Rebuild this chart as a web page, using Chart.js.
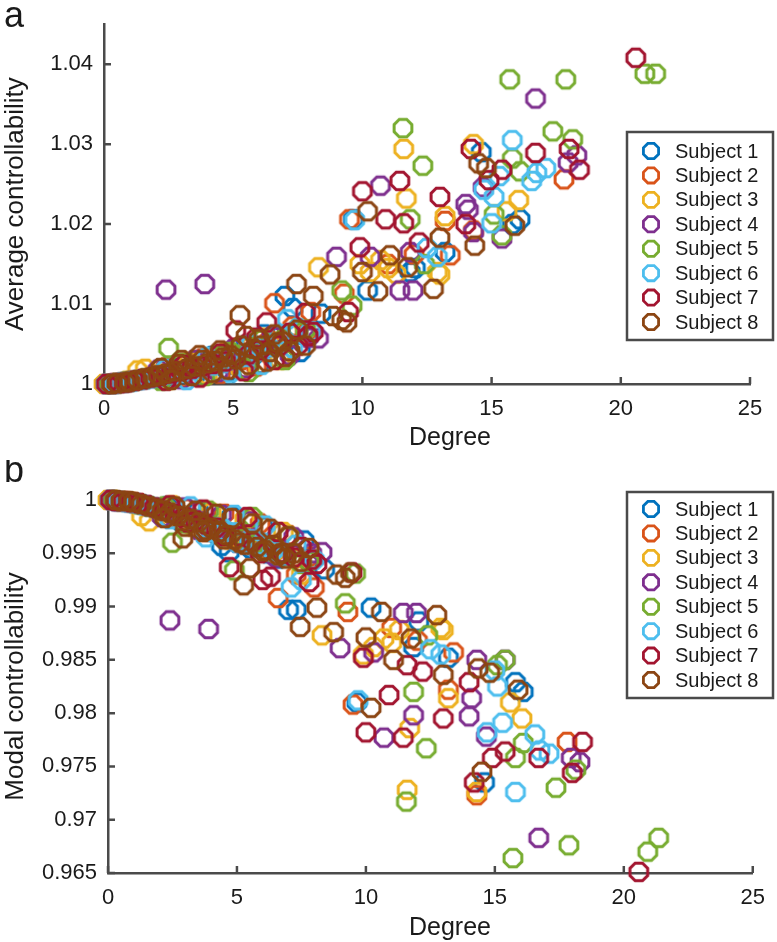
<!DOCTYPE html>
<html>
<head>
<meta charset="utf-8">
<title>Controllability vs degree</title>
<script src="https://cdn.jsdelivr.net/npm/chart.js@4.4.1/dist/chart.umd.min.js"></script>
<style>
  body { margin: 0; background: #fff; }
  canvas { display: block; }
</style>
</head>
<body>
<canvas id="chart-a" width="777" height="460"></canvas>
<canvas id="chart-b" width="777" height="482"></canvas>
<script>
'use strict';

// ** DATA **

let subjectNames = ['Subject 1', 'Subject 2', 'Subject 3', 'Subject 4', 'Subject 5', 'Subject 6', 'Subject 7', 'Subject 8'];
let subjectColors = ['#0072bd', '#d95319', '#edb120', '#7e2f8e', '#77ac30', '#4dbeee', '#a2142f', '#8b4513'];

let degreeTicks = [0, 5, 10, 15, 20, 25];
let averageTicks = [1, 1.01, 1.02, 1.03, 1.04];
let modalTicks = [0.965, 0.97, 0.975, 0.98, 0.985, 0.99, 0.995, 1];

// each node: degree, average controllability, modal controllability
let s1Degree = [0.1, 0.3, 0.5, 0.8, 1.0, 1.3, 1.6, 1.9, 2.2, 2.6, 3.0, 3.3, 3.7, 4.0, 4.4, 4.7, 5.0, 5.4, 5.8, 6.2, 6.6, 7.0, 7.3, 8.4, 9.65, 10.2, 11.85, 12.05, 13.2, 14.6, 15.8, 16.1,
  2.3, 2.8, 3.5, 4.2, 4.8, 5.5, 6.0, 6.8, 7.6];
let s1Average = [1.0000, 1.0000, 1.0001, 1.0002, 1.0003, 1.0005, 1.0006, 1.0008, 1.0010, 1.0013, 1.0016, 1.0018, 1.0022, 1.0025, 1.0027, 1.0031, 1.0024, 1.0038, 1.0036, 1.0062, 1.0050, 1.0110, 1.0095, 1.0088, 1.0206, 1.0117, 1.0140, 1.0145, 1.0165, 1.0290, 1.0200, 1.0206,
  1.0006, 1.0020, 1.0010, 1.0035, 1.0016, 1.0048, 1.0025, 1.0060, 1.0040];
let s1Modal = [1.0000, 0.9999, 0.9999, 0.9998, 0.9997, 0.9996, 0.9994, 0.9992, 0.9990, 0.9987, 0.9984, 0.9982, 0.9978, 0.9975, 0.9957, 0.9951, 0.9968, 0.9963, 0.9958, 0.9950, 0.9945, 0.9897, 0.9897, 0.9935, 0.9810, 0.9899, 0.9862, 0.9886, 0.9852, 0.9735, 0.9829, 0.9820,
  0.9994, 0.9980, 0.9990, 0.9968, 0.9985, 0.9955, 0.9975, 0.9948, 0.9962];

let s2Degree = [0.2, 0.4, 0.7, 1.0, 1.2, 1.5, 1.8, 2.1, 2.5, 2.8, 3.2, 3.6, 3.9, 4.3, 4.6, 5.0, 5.3, 5.7, 6.1, 6.6, 7.3, 8.0, 9.3, 9.5, 11.0, 12.0, 13.2, 13.4, 14.3, 17.8,
  2.4, 3.0, 3.8, 4.5, 5.1, 5.9, 6.4, 7.0, 7.8];
let s2Average = [1.0000, 1.0001, 1.0002, 1.0003, 1.0004, 1.0006, 1.0008, 1.0009, 1.0012, 1.0014, 1.0017, 1.0020, 1.0023, 1.0026, 1.0029, 1.0033, 1.0030, 1.0041, 1.0045, 1.0101, 1.0072, 1.0090, 1.0113, 1.0206, 1.0150, 1.0162, 1.0204, 1.0161, 1.0192, 1.0256,
  1.0021, 1.0008, 1.0032, 1.0013, 1.0045, 1.0022, 1.0055, 1.0033, 1.0063];
let s2Modal = [1.0000, 0.9999, 0.9999, 0.9998, 0.9997, 0.9995, 0.9993, 0.9991, 0.9988, 0.9986, 0.9983, 0.9979, 0.9977, 0.9973, 0.9970, 0.9966, 0.9962, 0.9959, 0.9955, 0.9908, 0.9930, 0.9918, 0.9895, 0.9808, 0.9880, 0.9868, 0.9822, 0.9857, 0.9723, 0.9773,
  0.9983, 0.9992, 0.9970, 0.9987, 0.9962, 0.9978, 0.9950, 0.9967, 0.9947];

let s3Degree = [0.0, 0.2, 0.5, 0.9, 1.3, 1.6, 2.0, 2.3, 2.7, 3.1, 3.5, 3.9, 4.2, 4.6, 5.1, 5.6, 6.0, 6.5, 7.5, 8.3, 9.9, 10.3, 10.7, 11.0, 11.3, 11.6, 11.7, 12.9, 13.0, 13.2, 14.3, 15.6, 16.05,
  2.5, 3.3, 4.0, 4.7, 5.3, 6.2, 6.8, 7.2];
let s3Average = [1.0000, 1.0000, 1.0001, 1.0004, 1.0017, 1.0019, 1.0010, 1.0012, 1.0015, 1.0018, 1.0021, 1.0024, 1.0027, 1.0031, 1.0035, 1.0045, 1.0044, 1.0049, 1.0070, 1.0146, 1.0150, 1.0140, 1.0155, 1.0145, 1.0138, 1.0294, 1.0232, 1.0140, 1.0137, 1.0210, 1.0300, 1.0216, 1.0230,
  1.0005, 1.0028, 1.0012, 1.0040, 1.0018, 1.0058, 1.0030, 1.0062];
let s3Modal = [1.0000, 1.0000, 0.9999, 0.9998, 0.9985, 0.9980, 0.9990, 0.9988, 0.9985, 0.9982, 0.9979, 0.9976, 0.9972, 0.9969, 0.9965, 0.9960, 0.9957, 0.9953, 0.9930, 0.9873, 0.9855, 0.9862, 0.9870, 0.9866, 0.9878, 0.9728, 0.9786, 0.9880, 0.9878, 0.9814, 0.9726, 0.9810, 0.9795,
  0.9995, 0.9975, 0.9988, 0.9963, 0.9982, 0.9952, 0.9970, 0.9945];

let s4Degree = [0.1, 0.4, 0.8, 1.1, 1.5, 1.9, 2.4, 2.8, 3.2, 3.6, 3.9, 4.3, 4.8, 5.2, 5.7, 6.2, 6.8, 8.3, 9.0, 10.3, 10.7, 11.45, 11.85, 11.96, 14.0, 14.1, 14.3, 14.67, 15.4, 16.7, 17.96, 18.3,
  2.1, 3.0, 3.5, 4.4, 5.0, 5.5, 6.5, 7.2, 7.9];
let s4Average = [1.0000, 1.0001, 1.0002, 1.0004, 1.0006, 1.0009, 1.0118, 1.0014, 1.0017, 1.0020, 1.0125, 1.0026, 1.0030, 1.0034, 1.0039, 1.0044, 1.0050, 1.0057, 1.0159, 1.0159, 1.0248, 1.0117, 1.0165, 1.0117, 1.0225, 1.0218, 1.0190, 1.0246, 1.0182, 1.0357, 1.0277, 1.0286,
  1.0018, 1.0006, 1.0030, 1.0015, 1.0044, 1.0020, 1.0060, 1.0036, 1.0058];
let s4Modal = [1.0000, 0.9999, 0.9998, 0.9997, 0.9995, 0.9992, 0.9887, 0.9986, 0.9983, 0.9980, 0.9879, 0.9973, 0.9969, 0.9965, 0.9961, 0.9956, 0.9950, 0.9951, 0.9861, 0.9857, 0.9777, 0.9894, 0.9798, 0.9894, 0.9797, 0.9814, 0.9850, 0.9778, 0.9850, 0.9683, 0.9758, 0.9754,
  0.9984, 0.9993, 0.9972, 0.9986, 0.9960, 0.9980, 0.9946, 0.9965, 0.9950];

let s5Degree = [0.2, 0.5, 0.9, 1.2, 1.6, 2.0, 2.5, 2.9, 3.3, 3.7, 4.1, 4.5, 4.9, 5.3, 5.8, 6.3, 6.9, 7.5, 9.2, 9.6, 11.57, 11.85, 12.34, 12.4, 15.1, 15.4, 15.7, 15.8, 16.1, 17.37, 17.87, 18.14, 20.93, 21.35,
  2.2, 3.0, 3.9, 4.6, 5.6, 6.1, 7.0, 7.8];
let s5Average = [1.0000, 1.0001, 1.0003, 1.0004, 1.0007, 1.0009, 1.0045, 1.0016, 1.0019, 1.0022, 1.0025, 1.0028, 1.0040, 1.0036, 1.0038, 1.0047, 1.0055, 1.0065, 1.0117, 1.0098, 1.0320, 1.0206, 1.0273, 1.0150, 1.0212, 1.0186, 1.0381, 1.0282, 1.0266, 1.0316, 1.0381, 1.0306, 1.0388, 1.0388,
  1.0004, 1.0026, 1.0010, 1.0036, 1.0015, 1.0055, 1.0030, 1.0068];
let s5Modal = [1.0000, 0.9999, 0.9998, 0.9996, 0.9994, 0.9991, 0.9960, 0.9985, 0.9982, 0.9978, 0.9975, 0.9971, 0.9934, 0.9964, 0.9960, 0.9955, 0.9948, 0.9940, 0.9903, 0.9931, 0.9717, 0.9820, 0.9767, 0.9873, 0.9845, 0.9850, 0.9664, 0.9758, 0.9772, 0.9730, 0.9676, 0.9747, 0.9670, 0.9683,
  0.9994, 0.9978, 0.9990, 0.9966, 0.9984, 0.9952, 0.9966, 0.9942];

let s6Degree = [0.1, 0.4, 0.7, 1.1, 1.4, 1.8, 2.2, 2.6, 3.0, 3.4, 3.8, 4.2, 4.6, 5.0, 5.5, 5.9, 6.4, 7.1, 7.5, 9.7, 12.5, 12.9, 14.7, 15.0, 15.1, 15.3, 15.8, 16.55, 16.75, 17.1,
  2.4, 3.2, 4.0, 4.9, 5.7, 6.1, 6.8, 7.3, 8.0];
let s6Average = [1.0000, 1.0000, 1.0002, 1.0003, 1.0005, 1.0007, 1.0009, 1.0012, 1.0014, 1.0017, 1.0020, 1.0023, 1.0026, 1.0030, 1.0034, 1.0041, 1.0046, 1.0081, 1.0070, 1.0205, 1.0170, 1.0159, 1.0243, 1.0201, 1.0234, 1.0260, 1.0305, 1.0254, 1.0264, 1.0270,
  1.0019, 1.0005, 1.0034, 1.0014, 1.0050, 1.0024, 1.0062, 1.0045, 1.0066];
let s6Modal = [1.0000, 0.9999, 0.9998, 0.9997, 0.9995, 0.9993, 0.9990, 0.9987, 0.9984, 0.9981, 0.9965, 0.9974, 0.9970, 0.9960, 0.9963, 0.9958, 0.9952, 0.9918, 0.9925, 0.9812, 0.9860, 0.9855, 0.9782, 0.9840, 0.9825, 0.9791, 0.9726, 0.9780, 0.9765, 0.9762,
  0.9982, 0.9994, 0.9970, 0.9986, 0.9955, 0.9976, 0.9948, 0.9958, 0.9944];

let s7Degree = [0.1, 0.3, 0.6, 0.9, 1.2, 1.5, 1.8, 2.2, 2.6, 3.0, 3.4, 3.8, 4.2, 4.7, 5.1, 5.6, 6.0, 6.3, 6.8, 7.8, 7.9, 8.1, 9.46, 9.9, 10.0, 10.9, 11.45, 11.6, 12.2, 13.0, 14.0, 14.2, 14.9, 15.4, 16.7, 18.0, 18.4, 20.58,
  2.4, 3.1, 3.7, 4.5, 5.4, 5.9, 6.6, 7.2, 7.5];
let s7Average = [1.0000, 1.0000, 1.0001, 1.0002, 1.0004, 1.0006, 1.0008, 1.0010, 1.0013, 1.0016, 1.0019, 1.0022, 1.0025, 1.0028, 1.0067, 1.0037, 1.0042, 1.0077, 1.0048, 1.0089, 1.0060, 1.0065, 1.0090, 1.0171, 1.0241, 1.0206, 1.0254, 1.0201, 1.0177, 1.0234, 1.0200, 1.0294, 1.0255, 1.0268, 1.0289, 1.0294, 1.0268, 1.0408,
  1.0004, 1.0024, 1.0008, 1.0038, 1.0016, 1.0058, 1.0030, 1.0064, 1.0048];
let s7Modal = [1.0000, 0.9999, 0.9999, 0.9998, 0.9997, 0.9995, 0.9993, 0.9990, 0.9987, 0.9984, 0.9981, 0.9977, 0.9974, 0.9937, 0.9966, 0.9961, 0.9925, 0.9928, 0.9950, 0.9923, 0.9944, 0.9940, 0.9932, 0.9852, 0.9782, 0.9817, 0.9777, 0.9845, 0.9839, 0.9795, 0.9829, 0.9735, 0.9758, 0.9764, 0.9758, 0.9744, 0.9773, 0.9651,
  0.9995, 0.9979, 0.9991, 0.9966, 0.9984, 0.9950, 0.9970, 0.9946, 0.9956];

let s8Degree = [0.3, 0.5, 0.8, 1.0, 1.3, 1.6, 1.9, 2.1, 2.4, 2.7, 2.9, 3.2, 3.5, 3.8, 4.0, 4.3, 4.6, 4.9, 5.1, 5.26, 5.5, 5.8, 6.1, 6.4, 6.7, 6.9, 7.2, 7.45, 8.1, 8.75, 8.86, 9.2, 9.4, 10.0, 10.2, 10.6, 11.07, 11.75, 12.75, 13.0, 14.35, 14.5, 14.8, 15.9,
  2.2, 2.6, 3.0, 3.4, 3.7, 4.2, 4.5, 4.8, 5.3, 5.6, 6.0, 6.3, 6.6, 7.0, 7.5, 7.8];
let s8Average = [1.0000, 1.0001, 1.0002, 1.0003, 1.0005, 1.0007, 1.0009, 1.0011, 1.0013, 1.0016, 1.0025, 1.0019, 1.0022, 1.0030, 1.0026, 1.0029, 1.0033, 1.0036, 1.0031, 1.0086, 1.0060, 1.0044, 1.0048, 1.0040, 1.0052, 1.0053, 1.0041, 1.0125, 1.0110, 1.0137, 1.0085, 1.0080, 1.0077, 1.0140, 1.0216, 1.0116, 1.0161, 1.0146, 1.0119, 1.0183, 1.0173, 1.0276, 1.0270, 1.0198,
  1.0020, 1.0005, 1.0030, 1.0010, 1.0036, 1.0014, 1.0042, 1.0018, 1.0048, 1.0024, 1.0056, 1.0028, 1.0062, 1.0034, 1.0068, 1.0048];
let s8Modal = [1.0000, 0.9999, 0.9999, 0.9998, 0.9996, 0.9994, 0.9992, 0.9990, 0.9988, 0.9985, 0.9964, 0.9982, 0.9979, 0.9972, 0.9974, 0.9970, 0.9967, 0.9963, 0.9960, 0.9920, 0.9936, 0.9956, 0.9953, 0.9958, 0.9950, 0.9945, 0.9950, 0.9881, 0.9899, 0.9876, 0.9930, 0.9927, 0.9932, 0.9871, 0.9805, 0.9895, 0.9850, 0.9870, 0.9892, 0.9836, 0.9842, 0.9745, 0.9838, 0.9822,
  0.9983, 0.9994, 0.9975, 0.9990, 0.9970, 0.9987, 0.9963, 0.9983, 0.9958, 0.9978, 0.9952, 0.9973, 0.9948, 0.9966, 0.9942, 0.9955];

let subjectDegrees = [s1Degree, s2Degree, s3Degree, s4Degree, s5Degree, s6Degree, s7Degree, s8Degree];
let subjectAverage = [s1Average, s2Average, s3Average, s4Average, s5Average, s6Average, s7Average, s8Average];
let subjectModal = [s1Modal, s2Modal, s3Modal, s4Modal, s5Modal, s6Modal, s7Modal, s8Modal];

// ** STYLE **

const fontFamily = '"Liberation Sans", Arial, Helvetica, sans-serif';
const textColor = '#1a1a1a';
const axisColor = '#4a4a4a';

// ** FUNCTIONS **

// matlab draws its 'o' markers as octagons
function drawOctagon(ctx, cx, cy, r, color, lw) {
  ctx.beginPath();
  for (let k = 0; k < 8; k++) {
    let ang = Math.PI / 8 + k * Math.PI / 4;
    let px = cx + r * Math.cos(ang);
    let py = cy + r * Math.sin(ang);
    if (k === 0) {
      ctx.moveTo(px, py);
    } else {
      ctx.lineTo(px, py);
    }
  }
  ctx.closePath();
  ctx.strokeStyle = color;
  ctx.lineWidth = lw;
  ctx.stroke();
}

function makeMarker(color) {
  let c = document.createElement('canvas');
  c.width = 26;
  c.height = 26;
  drawOctagon(c.getContext('2d'), 13, 13, 9.6, color, 3);
  return c;
}

let markers = subjectColors.map(makeMarker);

function buildDatasets(valueLists) {
  let sets = [];
  for (let i = 0; i < subjectNames.length; i++) {
    let points = subjectDegrees[i].map((d, j) => ({ x: d, y: valueLists[i][j] }));
    sets.push({
      label: subjectNames[i],
      data: points,
      borderColor: subjectColors[i],
      backgroundColor: subjectColors[i],
      pointStyle: markers[i],
      pointRadius: 10,
      showLine: false,
      clip: false,
      order: subjectNames.length - 1 - i // later subjects drawn on top
    });
  }
  return sets;
}

function tickFormat(v) {
  return String(Number(v.toFixed(3)));
}

// inward tick marks like matlab
const innerTicks = {
  id: 'innerTicks',
  beforeDatasetsDraw(chart) {
    let ctx = chart.ctx;
    let area = chart.chartArea;
    ctx.save();
    ctx.strokeStyle = axisColor;
    ctx.lineWidth = 2.5;
    ctx.beginPath();
    chart.scales.x.ticks.forEach(t => {
      let px = chart.scales.x.getPixelForValue(t.value);
      ctx.moveTo(px, area.bottom);
      ctx.lineTo(px, area.bottom - 7);
    });
    chart.scales.y.ticks.forEach(t => {
      let py = chart.scales.y.getPixelForValue(t.value);
      ctx.moveTo(area.left, py);
      ctx.lineTo(area.left + 7, py);
    });
    ctx.stroke();
    ctx.restore();
  }
};

// panel letter, x title and boxed legend
const panelDecor = {
  id: 'panelDecor',
  afterDatasetsDraw(chart, args, opts) {
    let ctx = chart.ctx;
    ctx.save();
    ctx.fillStyle = textColor;
    ctx.textBaseline = 'alphabetic';
    ctx.textAlign = 'left';
    ctx.font = '36px ' + fontFamily;
    ctx.fillText(opts.letter, 4, opts.letterY);

    ctx.textAlign = 'center';
    ctx.font = '25px ' + fontFamily;
    ctx.fillText('Degree', opts.titleX, opts.titleY);

    // legend box
    ctx.fillStyle = '#ffffff';
    ctx.fillRect(opts.legendX, opts.legendY, 146, opts.legendH);
    ctx.strokeStyle = axisColor;
    ctx.lineWidth = 2.5;
    ctx.strokeRect(opts.legendX, opts.legendY, 146, opts.legendH);
    ctx.font = '20px ' + fontFamily;
    ctx.textAlign = 'left';
    ctx.textBaseline = 'middle';
    chart.data.datasets.forEach((ds, i) => {
      let rowY = opts.legendY + opts.firstRow + i * 24.43;
      drawOctagon(ctx, opts.legendX + 24, rowY, 8.2, ds.borderColor, 2.8);
      ctx.fillStyle = textColor;
      ctx.fillText(ds.label, opts.legendX + 48, rowY + 1);
    });
    ctx.restore();
  }
};

function makeChart(canvasId, valueLists, cfg) {
  return new Chart(document.getElementById(canvasId), {
    type: 'scatter',
    data: { datasets: buildDatasets(valueLists) },
    options: {
      responsive: false,
      animation: false,
      events: [],
      layout: { padding: { left: 0, right: cfg.padRight, top: cfg.padTop, bottom: 0 } },
      scales: {
        x: {
          type: 'linear',
          min: 0,
          max: 25,
          afterBuildTicks: s => { s.ticks = degreeTicks.map(v => ({ value: v })); },
          afterFit: s => { s.height = cfg.xHeight; },
          grid: { display: false, drawTicks: false },
          border: { display: true, color: axisColor, width: 2.5 },
          ticks: { autoSkip: false, maxRotation: 0, padding: 12, color: textColor, font: { family: fontFamily, size: 22 } }
        },
        y: {
          type: 'linear',
          min: cfg.yMin,
          max: cfg.yMax,
          afterBuildTicks: s => { s.ticks = cfg.yTicks.map(v => ({ value: v })); },
          afterFit: s => { s.width = cfg.yWidth; },
          grid: { display: false, drawTicks: false },
          border: { display: true, color: axisColor, width: 2.5 },
          ticks: { autoSkip: false, padding: 11, color: textColor, font: { family: fontFamily, size: 22 }, callback: tickFormat },
          title: { display: true, text: cfg.yTitle, color: textColor, padding: 0, font: { family: fontFamily, size: 26 } }
        }
      },
      plugins: {
        legend: { display: false },
        tooltip: { enabled: false },
        panelDecor: cfg.decor
      }
    },
    plugins: [innerTicks, panelDecor]
  });
}

// ** CHARTS **

makeChart('chart-a', subjectAverage, {
  yMin: 1, yMax: 1.045, yTicks: averageTicks, yTitle: 'Average controllability',
  padRight: 27, padTop: 10, xHeight: 76, yWidth: 104,
  decor: { letter: 'a', letterY: 27, titleX: 450, titleY: 445, legendX: 627, legendY: 132, legendH: 208, firstRow: 19 }
});

makeChart('chart-b', subjectModal, {
  yMin: 0.965, yMax: 1, yTicks: modalTicks, yTitle: 'Modal controllability',
  padRight: 22, padTop: 40, xHeight: 69, yWidth: 108,
  decor: { letter: 'b', letterY: 22, titleX: 450, titleY: 475, legendX: 627, legendY: 32, legendH: 206, firstRow: 17 }
});
</script>
</body>
</html>
